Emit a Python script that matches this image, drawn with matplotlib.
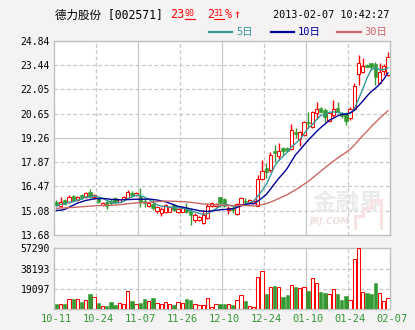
import matplotlib
matplotlib.use("Agg")
import matplotlib.pyplot as plt
import matplotlib.transforms as mtransforms
from matplotlib.lines import Line2D
import numpy as np

# --- daily bars, 2012-10-11 .. 2013-02-07 ---
opens = [15.59, 15.36, 15.69, 15.59, 15.92, 15.69, 15.96, 15.84, 16.13, 15.88,
         15.78, 15.40, 15.55, 15.63, 15.78, 15.59, 15.75, 15.79, 16.07, 15.99,
         15.92, 15.63, 15.36, 15.44, 15.08, 14.92, 15.02, 15.02, 15.40, 15.00,
         15.02, 15.21, 15.08, 14.54, 14.54, 14.35, 14.64, 15.34, 15.34, 15.84,
         15.73, 15.12, 15.21, 14.89, 15.44, 15.65, 15.56, 15.50, 15.36, 16.87,
         17.52, 17.41, 18.52, 18.22, 18.66, 18.66, 18.62, 19.61, 19.19, 19.42,
         20.19, 19.86, 20.66, 20.95, 20.86, 20.22, 20.57, 20.95, 20.70, 20.66,
         20.38, 20.89, 22.90, 23.02, 23.44, 23.53, 23.50, 22.42, 23.12, 22.86]
highs = [15.69, 15.88, 15.73, 15.98, 15.96, 15.94, 16.01, 16.17, 16.34, 16.03,
         15.84, 15.59, 15.69, 15.73, 15.84, 15.76, 15.92, 16.26, 16.21, 16.13,
         16.40, 15.78, 15.55, 15.76, 15.34, 15.31, 15.46, 15.36, 15.46, 15.21,
         15.25, 15.50, 15.21, 14.93, 14.77, 15.10, 15.50, 15.55, 15.52, 15.88,
         15.79, 15.34, 15.36, 15.50, 15.88, 15.82, 15.73, 15.73, 17.12, 17.98,
         17.79, 18.46, 18.85, 18.94, 18.75, 18.75, 20.05, 19.80, 19.65, 20.25,
         20.72, 20.80, 21.30, 21.05, 20.95, 20.76, 21.43, 21.30, 20.76, 20.76,
         21.05, 22.39, 24.01, 23.82, 23.50, 23.57, 23.63, 23.53, 23.50, 24.16]
lows = [15.34, 15.31, 15.40, 15.50, 15.61, 15.65, 15.76, 15.78, 15.78, 15.73,
        15.50, 15.36, 15.15, 15.40, 15.50, 15.56, 15.73, 15.73, 15.88, 15.94,
        15.31, 15.31, 15.31, 15.12, 14.93, 14.79, 14.96, 14.98, 15.08, 14.93,
        14.98, 14.93, 14.25, 14.45, 14.50, 14.30, 14.60, 15.30, 15.31, 15.31,
        15.31, 14.89, 14.92, 14.83, 15.36, 15.40, 15.50, 15.46, 15.34, 16.84,
        16.93, 17.32, 17.89, 17.98, 18.27, 18.44, 18.56, 19.23, 18.81, 19.38,
        19.90, 19.80, 20.34, 20.66, 20.19, 20.19, 20.43, 20.70, 20.40, 19.97,
        20.28, 20.83, 22.29, 22.96, 23.30, 23.15, 22.29, 22.38, 22.86, 22.80]
closes = [15.40, 15.55, 15.44, 15.88, 15.65, 15.88, 15.80, 16.11, 15.88, 15.96,
          15.56, 15.53, 15.36, 15.50, 15.56, 15.73, 15.88, 16.17, 15.97, 16.07,
          15.59, 15.50, 15.50, 15.21, 15.27, 15.19, 15.40, 15.31, 15.12, 15.15,
          15.21, 15.02, 14.83, 14.83, 14.73, 14.83, 15.36, 15.50, 15.48, 15.50,
          15.36, 15.21, 15.12, 15.46, 15.82, 15.56, 15.69, 15.63, 16.87, 17.35,
          17.30, 18.27, 18.37, 18.50, 18.52, 18.50, 19.71, 19.48, 19.57, 20.19,
          20.09, 20.76, 20.91, 20.76, 20.47, 20.70, 20.91, 20.76, 20.51, 20.22,
          20.89, 22.25, 23.53, 23.38, 23.34, 23.34, 22.77, 23.06, 23.36, 23.90]
volumes = [4700, 4700, 4700, 9400, 9400, 9400, 6900, 8450, 14100, 11300,
           5600, 2800, 2800, 6600, 3750, 6260, 5300, 16900, 7500, 4700,
           5600, 9400, 7500, 10300, 6260, 4700, 7200, 4700, 3750, 7200,
           6260, 9400, 8450, 5300, 3750, 3750, 10300, 1900, 5300, 4700,
           4700, 4700, 3750, 8450, 13800, 7500, 3450, 2500, 30700, 35700,
           14100, 21300, 21600, 21300, 11300, 13100, 23200, 20700, 20300, 21300,
           16900, 29700, 25000, 16000, 15000, 14700, 19400, 14100, 8450, 12200,
           9100, 47600, 57290, 16600, 15000, 14100, 24400, 15650, 8100, 11000]

# closes of the 29 sessions before the window, needed to seed the averages
prior_closes = [15.10, 15.20, 15.35, 15.40, 15.30, 15.25, 15.45, 15.50, 15.35, 15.20,
                15.15, 15.30, 15.40, 15.25, 15.10, 15.05, 15.20, 15.35, 15.30, 15.30,
                15.45, 14.95, 14.60, 14.55, 14.65, 15.05, 15.30, 15.45, 15.50]

date_labels = ["10-11", "10-24", "11-07", "11-26", "12-10", "12-24", "01-10", "01-24", "02-07"]
price_ticks = [13.68, 15.075, 16.47, 17.865, 19.26, 20.655, 22.05, 23.445, 24.84]
price_tick_labels = ["13.68", "15.08", "16.47", "17.87", "19.26", "20.65", "22.05", "23.44", "24.84"]
vol_ticks = [19097, 38193, 57290]
vol_tick_labels = ["19097", "38193", "57290"]
ma_windows = [5, 10, 30]
ma_labels = ["5日", "10日", "30日"]

BG = "#F4F2F3"
UP = "#FF0000"
DOWN = "#339933"
GRID = "#C8C8C8"
MA_COLORS = ["#339999", "#000099", "#CC6666"]
MONO = ["DejaVu Sans Mono", "Noto Sans CJK SC"]
W, H = 415, 330


def fx(px):
    return px / W


def fy(py):
    return 1 - py / H


n = len(closes)
xs = np.arange(n)
o = np.array(opens)
c = np.array(closes)
up = c >= o
all_closes = np.array(prior_closes + closes)


def sma(window):
    return np.convolve(all_closes, np.ones(window) / window, mode="valid")[-n:]


fig = plt.figure(figsize=(W / 100, H / 100), dpi=100, facecolor=BG)
ax = fig.add_axes([fx(54.3), fy(235), 335.7 / W, 194.4 / H])
axv = fig.add_axes([fx(54.3), fy(309.3), 335.7 / W, 61 / H])

for a in (ax, axv):
    a.set_facecolor("white")
    a.set_xlim(-0.5, n - 0.5)
    a.set_xticks([])
    for s in a.spines.values():
        s.set_color("#C0C0C0")
        s.set_linewidth(1.0)
    a.tick_params(axis="y", length=0, pad=3.2, labelsize=7)
    # every tenth session: dashed and solid lines alternate
    for k, gx in enumerate(np.arange(9.5, n - 1, 10)):
        a.axvline(gx, color=GRID, lw=0.9, ls=(0, (3, 2)) if k % 2 == 0 else "-", zorder=0)

# --- price panel ---
ax.set_ylim(price_ticks[0], price_ticks[-1])
ax.set_yticks(price_ticks)
ax.set_yticklabels(price_tick_labels, family=MONO)
for k, t in enumerate(price_ticks[1:-1], start=1):
    ax.axhline(t, color=GRID, lw=0.9, ls="-" if k == 4 else (0, (3, 2)), zorder=0)

# watermark
ax.text(0.875, 0.165, "金融界", transform=ax.transAxes, ha="center", va="center",
        fontsize=17, fontweight="bold", color="#EBEBEB", family=["Noto Sans CJK SC"], zorder=0.5)
ax.text(0.82, 0.07, "JRJ.COM", transform=ax.transAxes, ha="center", va="center",
        fontsize=6.5, fontweight="bold", style="italic", color="#EEDFDF", zorder=0.5)
logo = np.array([(355, 228), (355, 216), (363, 216), (363, 208), (371, 208), (371, 200),
                 (381, 200), (381, 228)])
ax.plot((logo[:, 0] - 54.3) / 335.7, (235 - logo[:, 1]) / 194.4, transform=ax.transAxes,
        color="#F8E2E2", lw=2.2, zorder=0.5, solid_joinstyle="miter")

colors = np.where(up, UP, DOWN)
ax.vlines(xs, lows, highs, colors=colors, lw=1.0, zorder=2)
body_lo = np.minimum(o, c)
body_h = np.maximum(np.abs(c - o), 0.02)
ax.bar(xs[up], body_h[up], bottom=body_lo[up], width=0.8, facecolor="white",
       edgecolor=UP, linewidth=0.75, zorder=3)
ax.bar(xs[~up], body_h[~up], bottom=body_lo[~up], width=0.8, facecolor=DOWN,
       edgecolor=DOWN, linewidth=0.4, zorder=3)

for w, col in zip(ma_windows, MA_COLORS):
    ax.plot(xs, sma(w), color=col, lw=1.0, zorder=4)

# --- volume panel ---
v = np.array(volumes)
axv.set_ylim(0, vol_ticks[-1])
axv.set_yticks(vol_ticks)
axv.set_yticklabels(vol_tick_labels, family=MONO)
for t in vol_ticks[:-1]:
    axv.axhline(t, color=GRID, lw=0.9, ls=(0, (3, 2)), zorder=0)
axv.bar(xs[up], v[up], width=0.8, facecolor="white", edgecolor=UP, linewidth=0.75, zorder=3)
axv.bar(xs[~up], v[~up], width=0.8, facecolor=DOWN, edgecolor=DOWN, linewidth=0.4, zorder=3)

trans = mtransforms.blended_transform_factory(axv.transData, axv.transAxes)
for k, lab in enumerate(date_labels):
    axv.text(k * 10, -0.16, lab, transform=trans, ha="center", va="center",
             fontsize=7.5, color=DOWN, family=MONO, clip_on=False)

# --- header ---
yh = fy(15)
fig.text(fx(55), yh, "德力股份 [002571]", fontsize=8.3, family=MONO, va="center")
fig.text(fx(170.5), yh, "23", fontsize=8.5, family=MONO, color=UP, va="center")
fig.text(fx(184.5), fy(14), "90", fontsize=6, family=MONO, color=UP, va="center")
fig.add_artist(Line2D([fx(185), fx(195)], [fy(18.6)] * 2, color=UP, lw=0.8))
fig.text(fx(207.5), yh, "2", fontsize=8.5, family=MONO, color=UP, va="center")
fig.text(fx(213.5), fy(14), "31", fontsize=6, family=MONO, color=UP, va="center")
fig.add_artist(Line2D([fx(214), fx(223.5)], [fy(18.6)] * 2, color=UP, lw=0.8))
fig.text(fx(224.5), yh, "%", fontsize=8.5, family=MONO, color=UP, va="center")
fig.text(fx(233), yh, "↑", fontsize=8.5, family=MONO, color=UP, va="center")
fig.text(fx(389.5), fy(15.5), "2013-02-07 10:42:27", fontsize=7.3, family=MONO,
         ha="right", va="center")

# moving-average legend
yl = fy(32.3)
for (x0, x1, xt), lab, col in zip([(209, 232, 236), (271, 294, 298), (337, 361, 364)],
                                  ma_labels, MA_COLORS):
    fig.add_artist(Line2D([fx(x0), fx(x1)], [yl, yl], color=col, lw=1.6))
    fig.text(fx(xt), yl, lab, fontsize=7.5, family=MONO, color=col, va="center")

fig.savefig("out.png", dpi=100, facecolor=BG)
